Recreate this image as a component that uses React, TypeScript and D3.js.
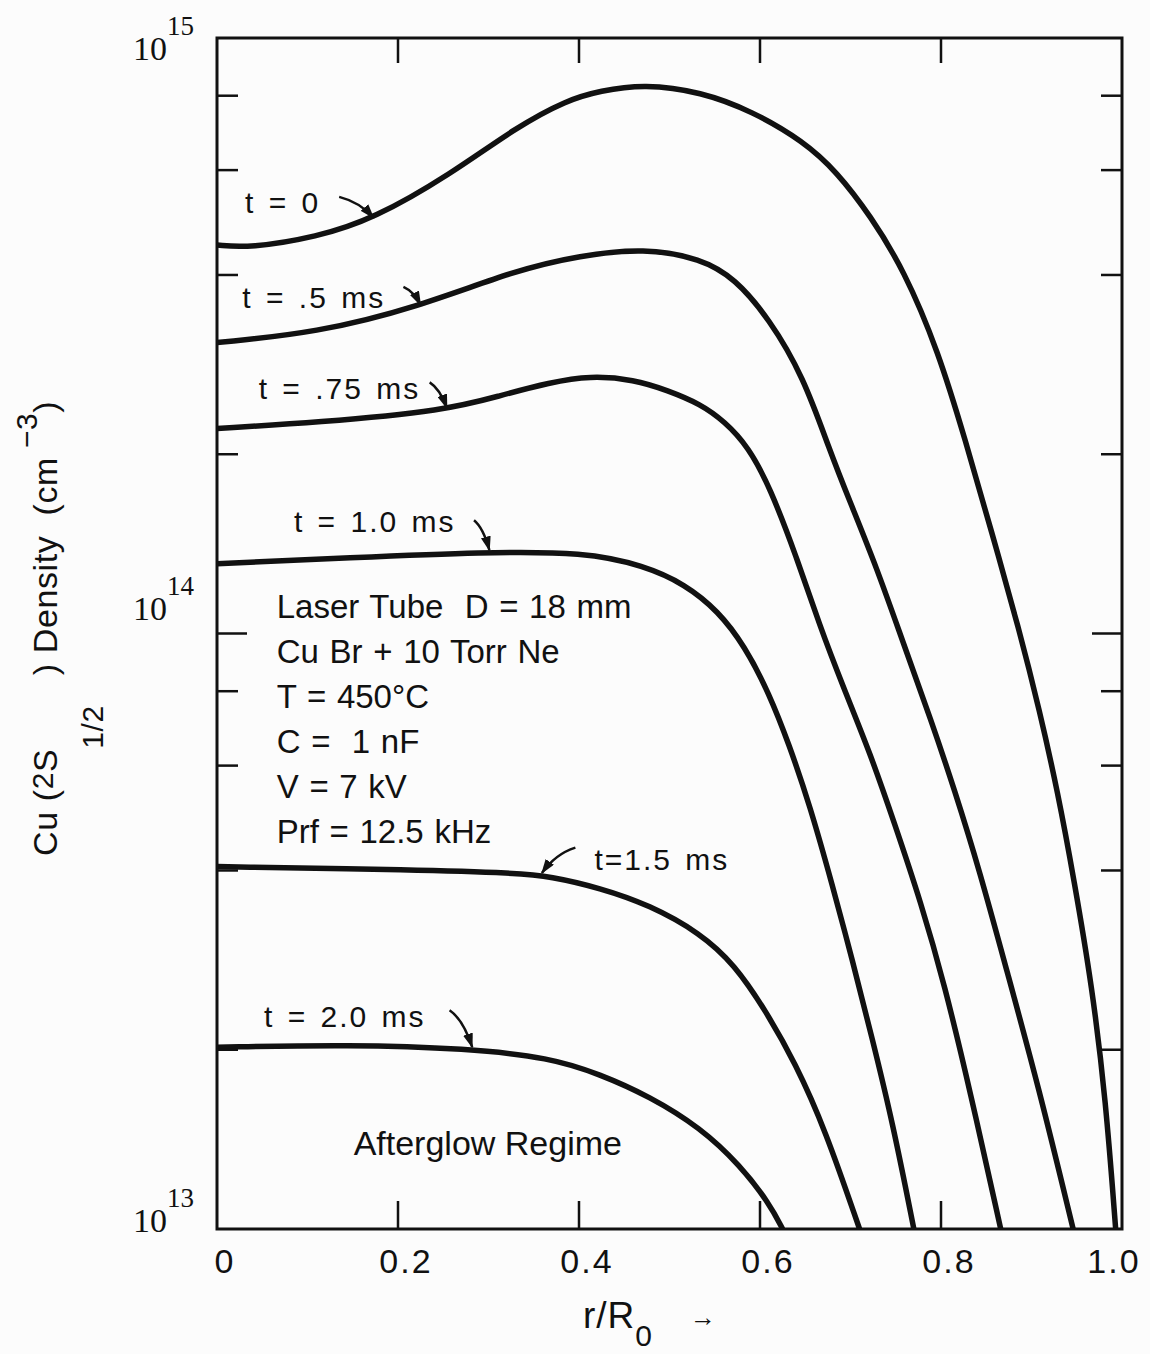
import React, { useEffect, useRef } from 'react';
import * as d3 from 'd3';

// [r/R0, Cu(2S1/2) density in cm^-3]
const curveT0 = [[0, 4.49e14], [0.036, 4.44e14], [0.11, 4.63e14], [0.173, 4.97e14], [0.257, 5.89e14], [0.331, 7.09e14], [0.387, 7.87e14], [0.423, 8.15e14], [0.472, 8.37e14], [0.535, 8.12e14], [0.591, 7.54e14], [0.648, 6.71e14], [0.685, 5.96e14], [0.722, 5.03e14], [0.759, 4.08e14], [0.797, 2.98e14], [0.827, 2.11e14], [0.856, 1.48e14], [0.886, 1.02e14], [0.909, 7.41e13], [0.929, 5.42e13], [0.947, 3.86e13], [0.967, 2.55e13], [0.982, 1.65e13], [0.993, 1.0e13]];
const curveT05 = [[0, 3.08e14], [0.11, 3.2e14], [0.221, 3.53e14], [0.331, 4.08e14], [0.401, 4.31e14], [0.472, 4.44e14], [0.535, 4.26e14], [0.572, 3.95e14], [0.61, 3.38e14], [0.648, 2.7e14], [0.677, 2.03e14], [0.699, 1.67e14], [0.729, 1.29e14], [0.759, 9.57e13], [0.789, 7.16e13], [0.815, 5.46e13], [0.843, 3.98e13], [0.872, 2.74e13], [0.908, 1.73e13], [0.946, 1.0e13]];
const curveT075 = [[0, 2.21e14], [0.11, 2.26e14], [0.254, 2.37e14], [0.313, 2.51e14], [0.368, 2.64e14], [0.412, 2.71e14], [0.461, 2.67e14], [0.498, 2.56e14], [0.534, 2.43e14], [0.561, 2.27e14], [0.587, 2.06e14], [0.611, 1.76e14], [0.64, 1.35e14], [0.666, 1.03e14], [0.692, 8.13e13], [0.722, 6.28e13], [0.748, 4.83e13], [0.778, 3.53e13], [0.804, 2.57e13], [0.832, 1.71e13], [0.866, 1.0e13]];
const curveT10 = [[0, 1.31e14], [0.147, 1.34e14], [0.295, 1.37e14], [0.406, 1.37e14], [0.472, 1.3e14], [0.517, 1.21e14], [0.554, 1.09e14], [0.583, 9.53e13], [0.61, 7.94e13], [0.632, 6.52e13], [0.655, 5.15e13], [0.68, 3.78e13], [0.702, 2.83e13], [0.724, 2.09e13], [0.747, 1.5e13], [0.77, 1.0e13]];
const curveT15 = [[0, 4.06e13], [0.221, 4.01e13], [0.331, 3.96e13], [0.368, 3.91e13], [0.423, 3.74e13], [0.478, 3.5e13], [0.534, 3.14e13], [0.572, 2.78e13], [0.606, 2.33e13], [0.639, 1.9e13], [0.672, 1.47e13], [0.71, 1.0e13]];
const curveT20 = [[0, 2.02e13], [0.147, 2.04e13], [0.276, 2.01e13], [0.368, 1.94e13], [0.423, 1.82e13], [0.478, 1.67e13], [0.534, 1.48e13], [0.578, 1.28e13], [0.611, 1.1e13], [0.625, 1.0e13]];

const series = [curveT0, curveT05, curveT075, curveT10, curveT15, curveT20];
const seriesLabels = ['t = 0', 't = .5 ms', 't = .75 ms', 't = 1.0 ms', 't=1.5 ms', 't = 2.0 ms'];

// label start, arrow tail and arrow tip, in [r/R0, density]
const labelAt = [[0.031, 5.08e14], [0.028, 3.52e14], [0.046, 2.48e14], [0.085, 1.48e14], [0.417, 4.01e13], [0.052, 2.18e13]];
const arrowFrom = [[0.135, 5.41e14], [0.206, 3.82e14], [0.235, 2.64e14], [0.284, 1.55e14], [0.396, 4.37e13], [0.257, 2.33e13]];
const arrowTo = [[0.173, 4.99e14], [0.225, 3.56e14], [0.254, 2.39e14], [0.301, 1.38e14], [0.359, 3.96e13], [0.282, 2.02e13]];

const xTicks = [0, 0.2, 0.4, 0.6, 0.8, 1.0];
const xTickLabels = ['0', '0.2', '0.4', '0.6', '0.8', '1.0'];
const decades = [1e13, 1e14, 1e15];
const decadeExponents = ['13', '14', '15'];
const minorSteps = [2, 4, 6, 8];

const conditions = ['Laser Tube  D = 18 mm', 'Cu Br + 10 Torr Ne', 'T = 450°C', 'C =  1 nF', 'V = 7 kV', 'Prf = 12.5 kHz'];
const conditionsAt = [0.066, 1.06e14];
const regimeLabel = 'Afterglow Regime';
const regimeAt = [0.151, 1.33e13];

const SANS = '"Liberation Sans", Arial, sans-serif';
const SERIF = '"Liberation Serif", "DejaVu Serif", serif';
const INK = '#111';

export default function App() {
    const ref = useRef<SVGSVGElement>(null);

    useEffect(() => {
        const svg = d3.select(ref.current);
        svg.selectAll('*').remove();

        const x = d3.scaleLinear().domain([0, 1]).range([217, 1122]);
        const y = d3.scaleLog().domain([1e13, 1e15]).range([1229, 38]);
        const [left, right] = x.range();
        const [bottom, top] = y.range();

        svg.append('rect').attr('width', 1150).attr('height', 1354).attr('fill', '#fcfcfc');

        const defs = svg.append('defs');
        defs.append('clipPath').attr('id', 'plot')
            .append('rect').attr('x', left).attr('y', top).attr('width', right - left).attr('height', bottom - top);
        defs.append('marker')
            .attr('id', 'head')
            .attr('viewBox', '0 0 12 8')
            .attr('refX', 11).attr('refY', 4)
            .attr('markerWidth', 15).attr('markerHeight', 10)
            .attr('markerUnits', 'userSpaceOnUse')
            .attr('orient', 'auto')
            .append('path').attr('d', 'M0,0 L12,4 L0,8 z').attr('fill', INK);

        // curves (hand-read points, so a B-spline to keep them smooth)
        const line = d3.line<number[]>()
            .x(d => x(d[0]))
            .y(d => y(d[1]))
            .curve(d3.curveBasis);

        svg.append('g')
            .attr('clip-path', 'url(#plot)')
            .selectAll('path')
            .data(series)
            .join('path')
            .attr('d', d => line(d))
            .attr('fill', 'none')
            .attr('stroke', INK)
            .attr('stroke-width', 5.5)
            .attr('stroke-linejoin', 'round');

        // frame
        svg.append('rect')
            .attr('x', left).attr('y', top)
            .attr('width', right - left).attr('height', bottom - top)
            .attr('fill', 'none').attr('stroke', INK).attr('stroke-width', 3);

        // y ticks, both sides, pointing in
        const minor: number[] = [];
        decades.slice(0, 2).forEach(d => minorSteps.forEach(m => minor.push(m * d)));
        const ticks = svg.append('g').attr('stroke', INK).attr('stroke-width', 2.5);
        minor.concat([1e14]).forEach(v => {
            const len = v === 1e14 ? 30 : 21;
            ticks.append('line').attr('x1', left).attr('x2', left + len).attr('y1', y(v)).attr('y2', y(v));
            ticks.append('line').attr('x1', right).attr('x2', right - len).attr('y1', y(v)).attr('y2', y(v));
        });

        // x ticks, top and bottom
        xTicks.slice(1, -1).forEach(v => {
            ticks.append('line').attr('x1', x(v)).attr('x2', x(v)).attr('y1', top).attr('y2', top + 25);
            ticks.append('line').attr('x1', x(v)).attr('x2', x(v)).attr('y1', bottom).attr('y2', bottom - 28);
        });

        // x tick labels
        svg.append('g')
            .selectAll('text')
            .data(xTicks)
            .join('text')
            .attr('x', (d, i) => (i === xTicks.length - 1 ? x(d) - 8 : x(d) + 8))
            .attr('y', bottom + 44)
            .attr('text-anchor', 'middle')
            .attr('font-family', SANS)
            .attr('font-size', 34)
            .attr('letter-spacing', 2)
            .attr('fill', INK)
            .text((d, i) => xTickLabels[i]);

        // y tick labels, 10^n
        const shift = [3, -14, 22];
        decades.forEach((d, i) => {
            const t = svg.append('text')
                .attr('x', 133)
                .attr('y', y(d) + shift[i])
                .attr('font-family', SERIF)
                .attr('font-size', 34)
                .attr('fill', INK);
            t.append('tspan').text('10');
            t.append('tspan').attr('dy', -25).attr('font-size', 27).text(decadeExponents[i]);
        });

        // axis titles
        const xt = svg.append('text')
            .attr('x', 583).attr('y', 1328)
            .attr('font-family', SANS).attr('font-size', 37)
            .attr('letter-spacing', 1)
            .attr('fill', INK);
        xt.append('tspan').text('r/R');
        xt.append('tspan').attr('dy', 18).attr('font-size', 30).text('0');
        svg.append('text')
            .attr('x', 690).attr('y', 1326)
            .attr('font-family', SANS).attr('font-size', 26)
            .attr('fill', INK)
            .text('→');

        const yt = svg.append('text')
            .attr('transform', 'translate(57,856) rotate(-90)')
            .attr('font-family', SANS).attr('font-size', 34)
            .attr('letter-spacing', 0.6)
            .attr('fill', INK)
            .style('white-space', 'pre');
        yt.append('tspan').text('Cu (');
        yt.append('tspan').attr('dy', -4).attr('font-size', 30).text('2');
        yt.append('tspan').attr('dy', 4).text('S');
        yt.append('tspan').attr('dy', 46).attr('font-size', 30).text('1/2');
        yt.append('tspan').attr('dy', -46).text('   ) Density  (cm');
        yt.append('tspan').attr('dy', -20).attr('font-size', 30).text(' −3');
        yt.append('tspan').attr('dy', 20).text(')');

        // curve labels and arrows
        const notes = svg.append('g').attr('font-family', SANS).attr('font-size', 30).attr('fill', INK);
        seriesLabels.forEach((label, i) => {
            notes.append('text')
                .attr('x', x(labelAt[i][0]))
                .attr('y', y(labelAt[i][1]))
                .attr('letter-spacing', 2)
                .attr('word-spacing', 3)
                .text(label);
            const tx = x(arrowFrom[i][0]), ty = y(arrowFrom[i][1]);
            const hx = x(arrowTo[i][0]), hy = y(arrowTo[i][1]);
            const p = d3.path();
            p.moveTo(tx, ty);
            p.quadraticCurveTo(tx + (hx - tx) * 0.6, ty + (hy - ty) * 0.25, hx, hy);
            notes.append('path')
                .attr('d', p.toString())
                .attr('fill', 'none')
                .attr('stroke', INK)
                .attr('stroke-width', 2.5)
                .attr('marker-end', 'url(#head)');
        });

        // run conditions
        const block = svg.append('text')
            .attr('x', x(conditionsAt[0]))
            .attr('y', y(conditionsAt[1]))
            .attr('font-family', SANS).attr('font-size', 33)
            .attr('word-spacing', 1.5)
            .attr('fill', INK)
            .style('white-space', 'pre');
        conditions.forEach((c, i) => {
            block.append('tspan')
                .attr('x', x(conditionsAt[0]))
                .attr('dy', i === 0 ? 0 : 45)
                .text(c);
        });

        svg.append('text')
            .attr('x', x(regimeAt[0]))
            .attr('y', y(regimeAt[1]))
            .attr('font-family', SANS).attr('font-size', 34)
            .attr('fill', INK)
            .text(regimeLabel);
    }, []);

    return (
        <svg
            ref={ref}
            width={1150}
            height={1354}
            style={{ position: 'absolute', left: 0, top: 0, display: 'block' }}
        />
    );
}
